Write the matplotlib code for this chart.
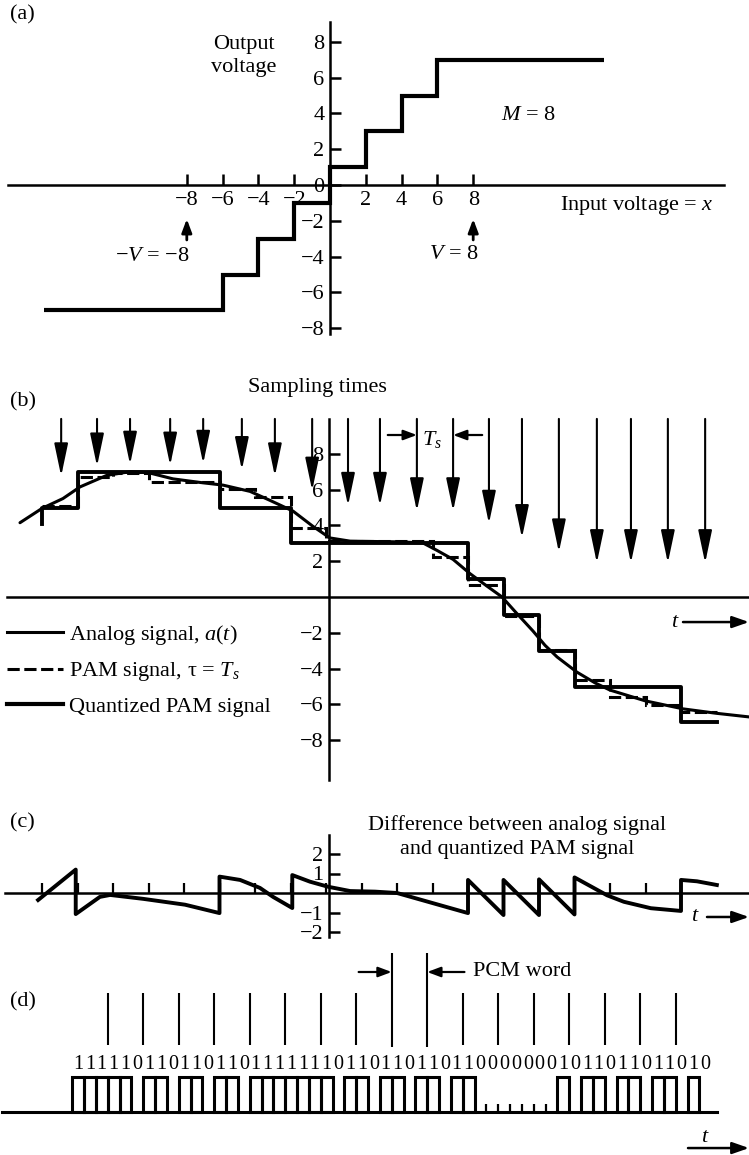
import matplotlib
matplotlib.use('Agg')
import matplotlib.pyplot as plt
from matplotlib.lines import Line2D

plt.rcParams['font.family'] = ['Liberation Serif', 'DejaVu Serif']
plt.rcParams['mathtext.fontset'] = 'custom'
plt.rcParams['mathtext.rm'] = 'Liberation Serif'
plt.rcParams['mathtext.it'] = 'Liberation Serif:italic'
plt.rcParams['mathtext.bf'] = 'Liberation Serif:bold'

# ---------------- data ----------------
# (a) quantizer characteristic
quant_a_edges = [-16, -6, -4, -2, 0, 2, 4, 6, 15.3]
quant_a_levels = [-7, -5, -3, -1, 1, 3, 5, 7]
a_xticks = [-8, -6, -4, -2, 2, 4, 6, 8]
a_yticks = [8, 6, 4, 2, 0, -2, -4, -6, -8]
a_arrow_x = [-8, 8]

# (b) signals, time in units of Ts
analog_t = [-0.62, 0.0, 0.59, 1.07, 1.83, 2.48, 2.99, 3.69, 4.45, 5.10, 5.86, 6.42,
            7.07, 7.63, 8.11, 8.68, 10.08, 10.73, 11.13, 11.58, 12.06, 12.54, 12.96,
            13.32, 13.83, 14.17, 14.51, 15.07, 15.58, 16.0, 16.99, 18.06, 19.01, 19.92]
analog_v = [4.15, 4.95, 5.5, 6.15, 6.8, 7.0, 6.95, 6.6, 6.4, 6.25, 5.9, 5.4,
            4.8, 3.95, 3.3, 3.12, 3.08, 3.02, 2.6, 2.1, 1.3, 0.6, 0.0,
            -0.8, -1.9, -2.7, -3.35, -4.2, -4.8, -5.2, -5.8, -6.25, -6.5, -6.7]
sample_edges = list(range(20))
quant_levels = [5, 7, 7, 7, 7, 5, 5, 3, 3, 3, 3, 3, 1, -1, -3, -5, -5, -5, -7]
quant_start = 4.1
pam_levels = [5.1, 6.7, 6.95, 6.45, 6.45, 6.05, 5.6, 3.85, 3.15, 3.15, 3.15, 2.25,
              0.67, -1.05, -2.95, -4.64, -5.6, -6.03, -6.4]
sample_times = [0.54, 1.55, 2.48, 3.61, 4.54, 5.63, 6.56, 7.61, 8.62, 9.52, 10.56,
                11.58, 12.59, 13.52, 14.56, 15.63, 16.59, 17.63, 18.68]
arrow_tips = [6.75, 7.3, 7.4, 7.35, 7.45, 7.1, 6.75, 5.95, 5.1, 5.1, 4.8, 4.8, 4.1,
              3.3, 2.5, 1.9, 1.9, 1.9, 1.9]
b_yticks = [8, 6, 4, 2, -2, -4, -6, -8]
legend_labels = [r'Analog signal, $\mathit{a(t)}$', 'PAM signal, τ = $T_s$',
                 'Quantized PAM signal']

# (c) difference signal
diff_t = [-0.11, 0.95, 0.95, 1.63, 1.92, 2.85, 4.03, 5.0, 5.0, 5.58, 6.14, 6.51, 7.05,
          7.05, 7.55, 8.06, 8.68, 9.38, 10.0, 12.0, 12.0, 13.0, 13.0, 14.0, 14.0,
          15.0, 15.0, 15.92, 16.39, 17.15, 18.0, 18.0, 18.45, 19.01]
diff_v = [-0.36, 1.2, -1.08, -0.2, -0.1, -0.3, -0.6, -1.03, 0.84, 0.67, 0.26, -0.2,
          -0.77, 0.92, 0.58, 0.32, 0.1, 0.07, 0.0, -1.03, 0.67, -1.13, 0.67, -1.13,
          0.7, -1.1, 0.8, -0.12, -0.45, -0.78, -0.92, 0.67, 0.6, 0.41]
c_xticks = list(range(19))
c_yticks = [2, 1, -1, -2]

# (d) PCM bit stream
bits = "111110110110110111111101101101101100000001011011011010"
bit_start = 0.85
pcm_word_marks = [9, 10]

# ---------------- layout ----------------
W, H, DPI = 749, 1155, 100
FS = 16
fig = plt.figure(figsize=(W / DPI, H / DPI), dpi=DPI)

T0PX, TSPX = 42.0, 35.5


def px_t(px):
    return (px - T0PX) / TSPX


TLIM = (px_t(0), px_t(W))
T_AXIS = px_t(329)


def band(top, bot, zero, ppu, xlim):
    ax = fig.add_axes([0, 1 - bot / H, 1, (bot - top) / H])
    ax.set_xlim(*xlim)
    ax.set_ylim((zero - bot) / ppu, (zero - top) / ppu)
    ax.patch.set_alpha(0)
    return ax


def cross_axes(ax, x0, xb, yb, lw=1.8):
    for s in ['top', 'right']:
        ax.spines[s].set_visible(False)
    ax.spines['left'].set_position(('data', x0))
    ax.spines['bottom'].set_position(('data', 0))
    ax.spines['left'].set_bounds(*yb)
    ax.spines['bottom'].set_bounds(*xb)
    for s in ['left', 'bottom']:
        ax.spines[s].set_linewidth(lw)


def arrow(ax, tail, tip, hl=0.7, hw=0.3, lw=1.8):
    ax.annotate('', xy=tip, xytext=tail, annotation_clip=False,
                arrowprops=dict(arrowstyle=f'-|>,head_length={hl},head_width={hw}',
                                mutation_scale=10, lw=lw, color='k',
                                shrinkA=0, shrinkB=0))


def label(px, py, s, **kw):
    fig.text(px / W, 1 - py / H, s, fontsize=FS, va='center', **kw)


# ---------------- (a) ----------------
axa = band(0, 345, 185, 17.9, ((0 - 330) / 17.9, (W - 330) / 17.9))
cross_axes(axa, 0, (-18.0, 22.0), (-8.3, 9.1))
axa.set_xticks(a_xticks)
axa.set_yticks(a_yticks)
axa.tick_params(direction='in', length=8, width=1.8, labelsize=FS, pad=4)
axa.stairs(quant_a_levels, quant_a_edges, baseline=None, color='k', lw=3)
for xv in a_arrow_x:
    arrow(axa, (xv, -3.07), (xv, -1.9), hl=0.8, hw=0.3, lw=2)
axa.text(-4.8, 7.2, 'Output\nvoltage', ha='center', va='center', fontsize=FS,
         linespacing=1.3)
axa.text(11.06, 3.9, '$M$ = 8', ha='center', va='center', fontsize=FS)
axa.text(12.85, -1.12, 'Input voltage = $x$', ha='left', va='center', fontsize=FS)
axa.text(-9.9, -4.0, '−$V$ = −8', ha='center', va='center', fontsize=FS)
axa.text(6.93, -3.9, '$V$ = 8', ha='center', va='center', fontsize=FS)
label(10, 15, '(a)')

# ---------------- (b) ----------------
axb = band(345, 790, 597, 17.9, TLIM)
cross_axes(axb, T_AXIS, (TLIM[0] + 0.2, TLIM[1]), (-10.2, 9.95))
axb.set_xticks([])
axb.set_yticks(b_yticks)
axb.tick_params(axis='y', direction='in', length=8, width=1.8, labelsize=FS, pad=4)
axb.plot(analog_t, analog_v, color='k', lw=2.2, solid_capstyle='round')
axb.stairs(pam_levels, sample_edges, baseline=None, color='k', lw=2.2,
           linestyle=(0, (4, 1.5)))
axb.plot([sample_edges[0]] + sample_edges, [quant_start] + quant_levels + [quant_levels[-1]],
         drawstyle='steps-post', color='k', lw=2.8)
for ts, tip in zip(sample_times, arrow_tips):
    arrow(axb, (ts, 9.95), (ts, tip), hl=2.0, hw=0.42, lw=1.5)
# Ts marker
arrow(axb, (sample_times[10] - 0.82, 9.05), (sample_times[10], 9.05), hl=0.8, hw=0.3, lw=1.6)
arrow(axb, (sample_times[11] + 0.82, 9.05), (sample_times[11], 9.05), hl=0.8, hw=0.3, lw=1.6)
axb.text(10.99, 8.8, '$T_s$', ha='center', va='center', fontsize=FS)
axb.text(px_t(317), 11.73, 'Sampling times', ha='center', va='center', fontsize=FS)
axb.text(px_t(680), -1.4, '$t$', ha='right', va='center', fontsize=FS)
arrow(axb, (px_t(683), -1.4), (px_t(749), -1.4), hl=1.0, hw=0.35, lw=1.8)
label(10, 402, '(b)')
handles = [Line2D([], [], color='k', lw=2.2),
           Line2D([], [], color='k', lw=2.2, ls=(0, (4, 1.5))),
           Line2D([], [], color='k', lw=3)]
axb.legend(handles, legend_labels, loc='upper left',
           bbox_to_anchor=(7 / W, 1 - 623 / H), bbox_transform=fig.transFigure,
           frameon=False, fontsize=FS, handlelength=2.5, handletextpad=0.3,
           labelspacing=0.6, borderpad=0, borderaxespad=0)

# ---------------- (c) ----------------
axc = band(790, 940, 893, 19.5, TLIM)
cross_axes(axc, T_AXIS, (px_t(5), TLIM[1]), (-2.25, 3.0))
axc.set_xticks(c_xticks)
axc.set_yticks(c_yticks)
axc.tick_params(axis='x', direction='in', length=7, width=1.6, labelbottom=False)
axc.tick_params(axis='y', direction='in', length=8, width=1.8, labelsize=FS, pad=4)
axc.plot(diff_t, diff_v, color='k', lw=2.8)
axc.text(px_t(700), -1.23, '$t$', ha='right', va='center', fontsize=FS)
arrow(axc, (px_t(707), -1.23), (px_t(749), -1.23), hl=1.0, hw=0.35, lw=1.8)
label(10, 823, '(c)')
label(517, 837, 'Difference between analog signal\nand quantized PAM signal',
      ha='center', linespacing=1.3)

# ---------------- (d) ----------------
axd = band(940, 1155, 1112, 35.0, TLIM)
axd.set_axis_off()
bw = 1.0 / 3.0
n = len(bits)
axd.plot([px_t(2), px_t(717)], [0, 0], color='k', lw=2.2)
ones = [bit_start + (i + 0.5) * bw for i, b in enumerate(bits) if b == '1']
axd.bar(ones, [1.0] * len(ones), width=bw, bottom=0, fill=False, edgecolor='k', lw=2.2)
zero_ticks = [bit_start + (i + 1) * bw for i in range(n - 1)
              if bits[i] == '0' and bits[i + 1] == '0']
axd.vlines(zero_ticks, 0, 0.22, color='k', lw=1.6)
for i, b in enumerate(bits):
    axd.text(bit_start + (i + 0.5) * bw, 1.36, b, ha='center', va='center', fontsize=14.5)
for j in range(1, n // 3):
    x = bit_start + j * 3 * bw
    if j in pcm_word_marks:
        axd.vlines(x, 1.86, 4.54, color='k', lw=1.5)
    else:
        axd.vlines(x, 1.91, 3.4, color='k', lw=1.5)
xm1 = bit_start + pcm_word_marks[0] * 3 * bw
xm2 = bit_start + pcm_word_marks[1] * 3 * bw
arrow(axd, (xm1 - 0.93, 4.0), (xm1, 4.0), hl=0.8, hw=0.3, lw=1.6)
arrow(axd, (xm2 + 1.05, 4.0), (xm2, 4.0), hl=0.8, hw=0.3, lw=1.6)
axd.text(px_t(473), 4.0, 'PCM word', ha='left', va='center', fontsize=FS)
axd.text(px_t(705), -0.74, '$t$', ha='center', va='center', fontsize=FS)
arrow(axd, (px_t(688), -1.03), (px_t(749), -1.03), hl=1.0, hw=0.35, lw=1.8)
label(10, 1002, '(d)')

fig.savefig('out.png', dpi=DPI)
